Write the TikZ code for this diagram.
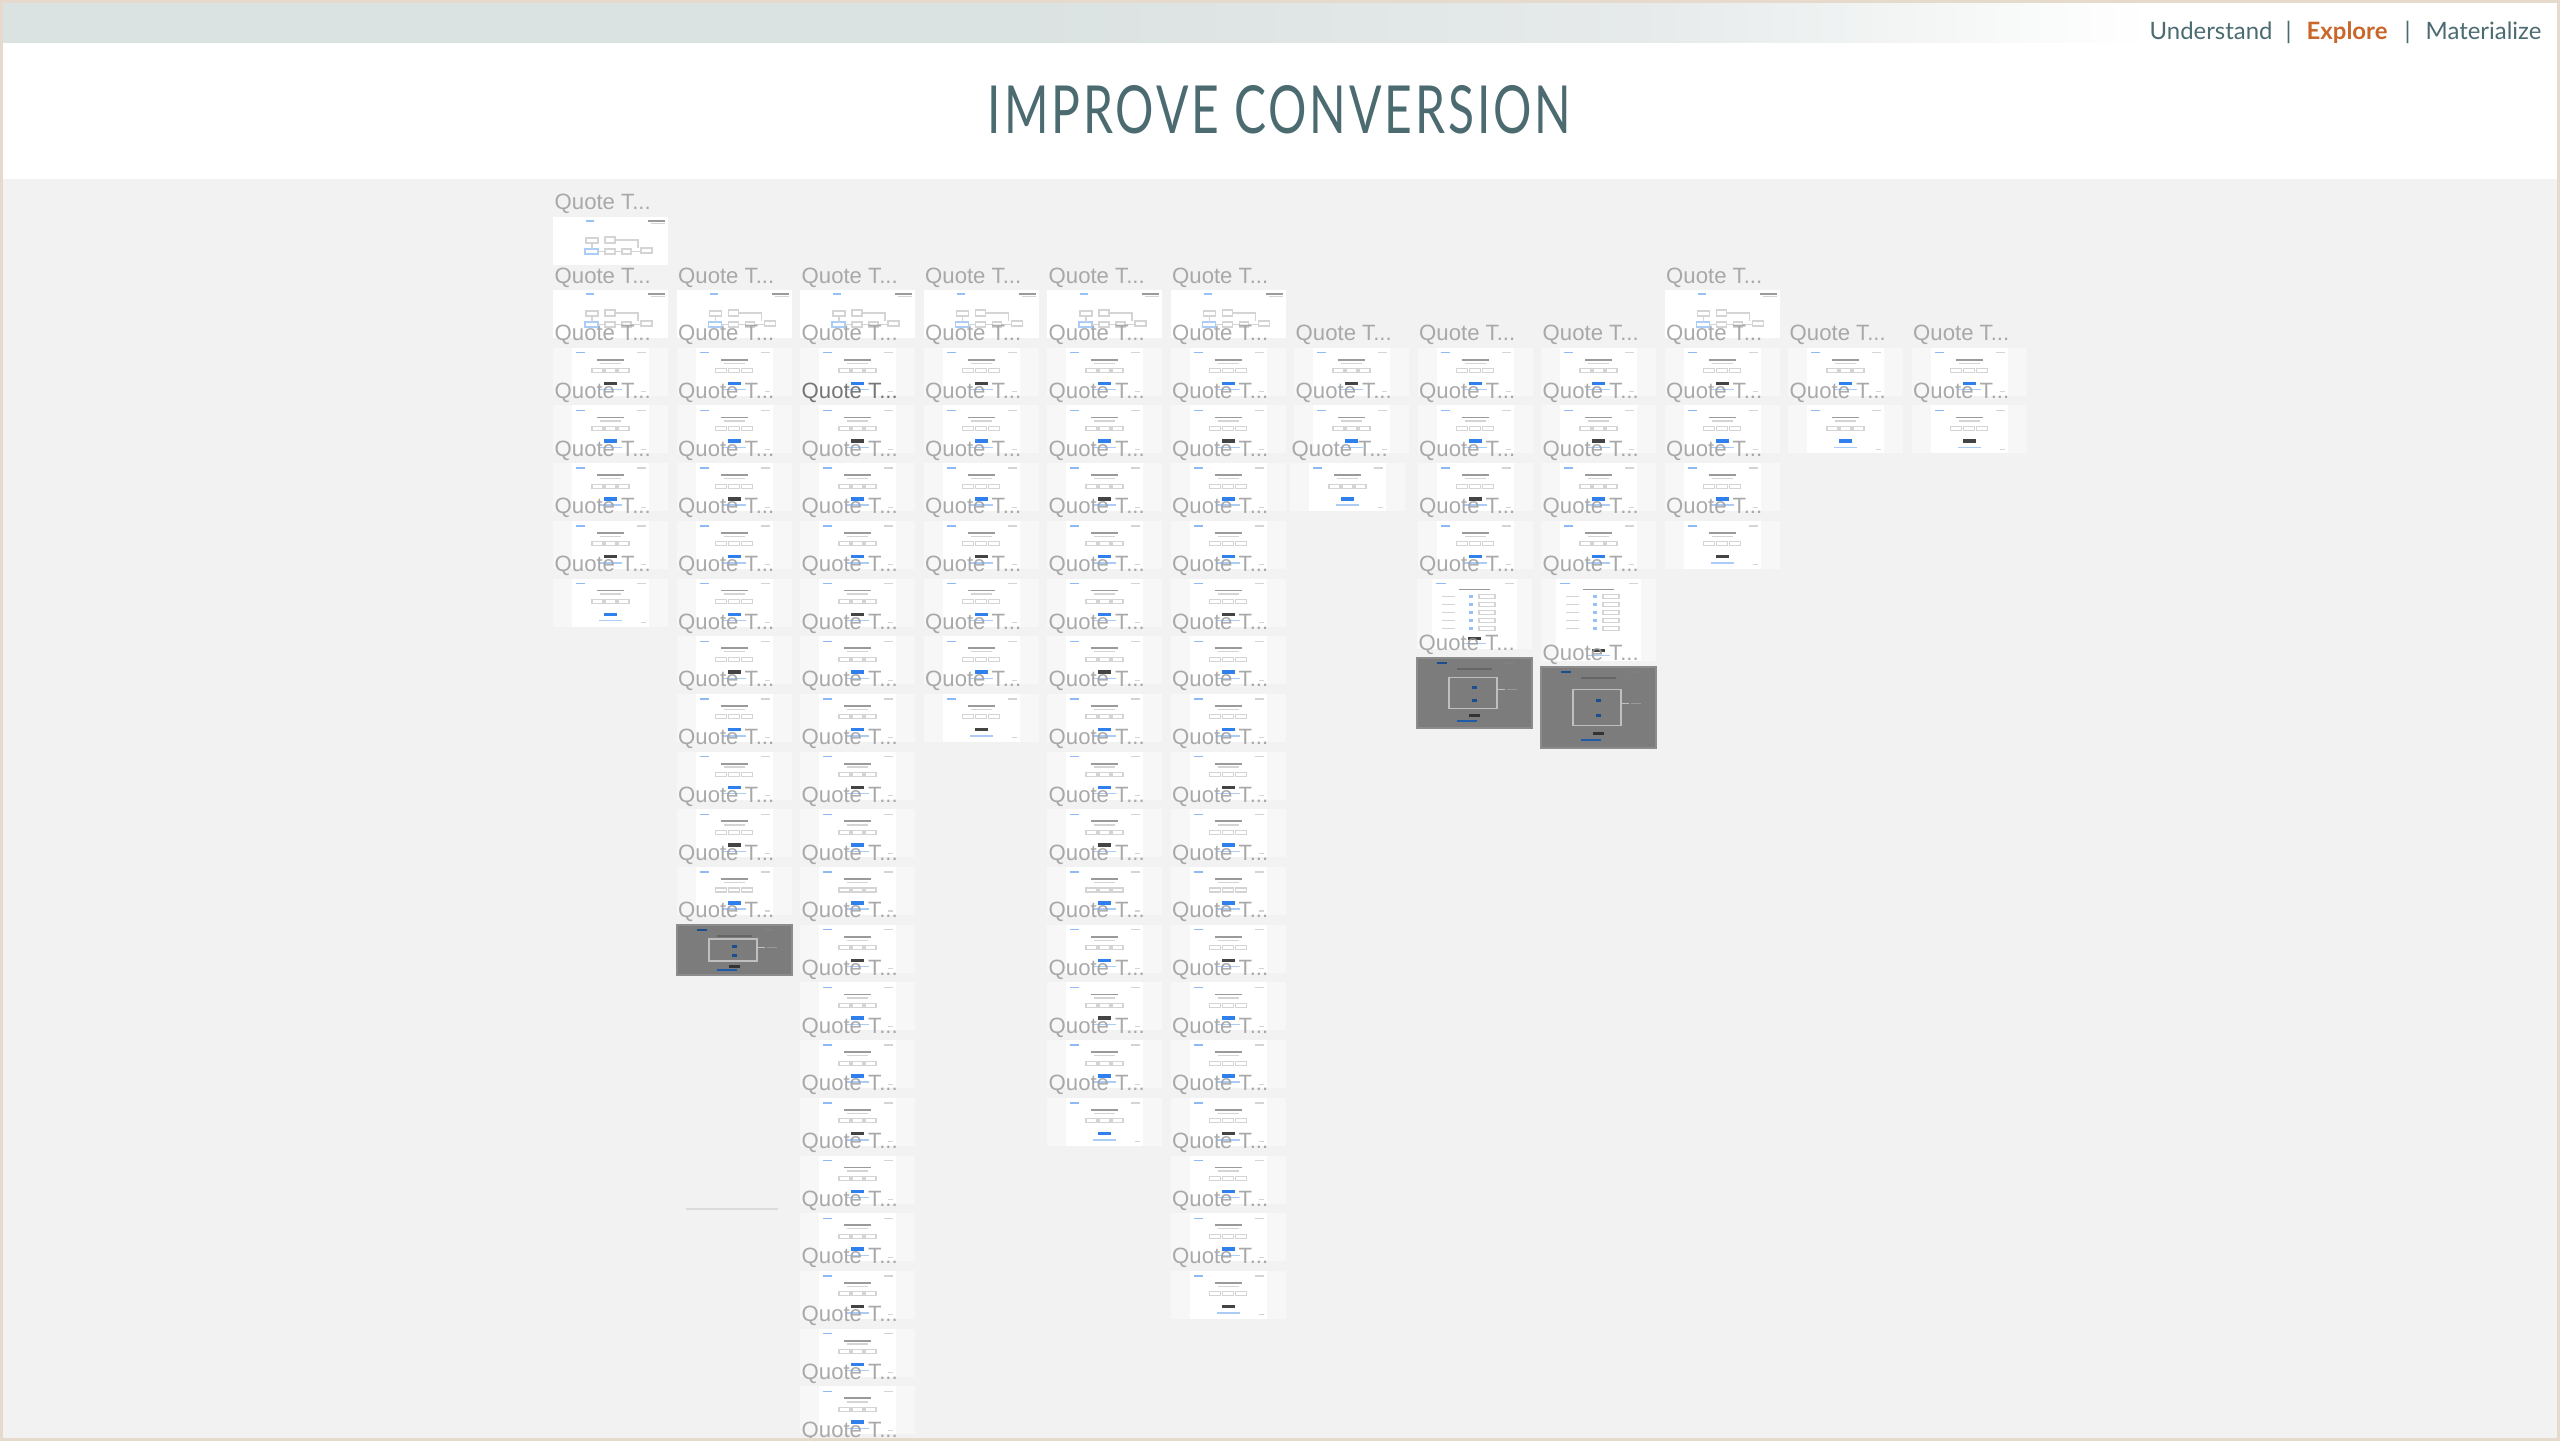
\documentclass[tikz,border=0pt]{standalone}
\usepackage{graphicx}
\usepackage{fontspec}
\setmainfont{Liberation Sans}
\newfontfamily\navfont{Lato}
\newfontfamily\titlefont[LetterSpace=6]{Lato}
\definecolor{canvas}{HTML}{F2F2F2}
\definecolor{hdr}{HTML}{DBE2E2}
\definecolor{framec}{HTML}{E6DACC}
\definecolor{slate}{HTML}{4B6B70}
\definecolor{orng}{HTML}{C9672B}
\definecolor{thout}{HTML}{F7F7F7}
\definecolor{qgray}{HTML}{A0A0A0}
\definecolor{qdark}{HTML}{686868}
\definecolor{uiblue}{HTML}{2F80ED}
\definecolor{uidark}{HTML}{444444}
\definecolor{lnc}{HTML}{D4D4D4}
\definecolor{txtc}{HTML}{9A9A9A}
\definecolor{darkth}{HTML}{7C7C7C}
\definecolor{hdrmid}{HTML}{E6EAEA}
\pgfdeclarehorizontalshading{hdrshade}{100bp}{color(0bp)=(hdr); color(45bp)=(hdr); color(57bp)=(hdrmid); color(67bp)=(white); color(100bp)=(white)}

\newcommand\FlowThumb[2]{%
\begin{scope}[shift={(#1,#2)}]
 \fill[white] (0,0) rectangle (115,48);
 \draw[uiblue!50,line width=0.4pt] (33,4) -- (41,4);
 \draw[txtc,line width=0.5pt] (95,4) -- (112,4);
 \draw[lnc,line width=0.3pt] (98,6.5) -- (112,6.5);
 \draw[fl] (33,21) rectangle (45,26);
 \draw[fl] (52,20) rectangle (62,26);
 \draw[fl] (62,23) -- (85,23) -- (85,31);
 \draw[fl,draw=uiblue!40] (32,32) rectangle (45,37);
 \draw[fl] (52,32) rectangle (62,37);
 \draw[fl] (69,32) rectangle (78,37);
 \draw[fl] (45,34.5) -- (52,34.5) (62,34.5) -- (69,34.5) (78,34.5) -- (88,34.5);
 \draw[fl] (88,31) rectangle (99,36);
 \draw[fl] (39,26) -- (39,32);
\end{scope}}

\newcommand\ScrThumb[4]{%
\begin{scope}[shift={(#1,#2)}]
 \fill[thout] (0,0) rectangle (115,#3);
 \fill[white] (19,0) rectangle (96,#3);
 \draw[uiblue!55,line width=0.4pt] (23,5) -- (32,5);
 \draw[lnc,line width=0.4pt] (84,5) -- (93,5);
 \draw[txtc,line width=0.5pt] (44,12) -- (71,12);
 \draw[lnc,line width=0.4pt] (47,15.5) -- (68,15.5);
 \draw[fl] (39,21) rectangle (50,25) (52,21) rectangle (63,25) (65,21) rectangle (76,25);
 \fill[#4] (51,#3-14) rectangle (64,#3-10.5);
 \draw[uiblue!40,line width=0.4pt] (46,#3-6) -- (69,#3-6);
 \draw[lnc,line width=0.3pt] (88,#3-4) -- (93,#3-4);
\end{scope}}

\newcommand\TallThumb[3]{%
\begin{scope}[shift={(#1,#2)}]
 \fill[thout] (0,0) rectangle (115,#3);
 \fill[white] (15,0) rectangle (100,#3);
 \draw[uiblue!55,line width=0.4pt] (19,5) -- (29,5);
 \draw[lnc,line width=0.4pt] (88,5) -- (97,5);
 \draw[txtc,line width=0.5pt] (42,11) -- (73,11);
 \foreach \k in {0,...,4} {
   \draw[lnc,line width=0.3pt] (25,18+\k*8) -- (38,18+\k*8);
   \fill[uiblue!50] (52,16.5+\k*8) rectangle (56,19.5+\k*8);
   \draw[fl] (62,16+\k*8) rectangle (78,20+\k*8);
 }
 \fill[uidark] (51,#3-12) rectangle (64,#3-9);
 \draw[uiblue!40,line width=0.4pt] (46,#3-5) -- (69,#3-5);
\end{scope}}

\newcommand\DarkThumb[3]{%
\begin{scope}[shift={(#1,#2)}]
 \fill[darkth] (0,0) rectangle (115,#3);
 \draw[black!45,line width=0.4pt] (0,0) rectangle (115,#3);
 \draw[uiblue!60!black,line width=0.4pt] (20,5) -- (30,5);
 \draw[black!50,line width=0.3pt] (88,5) -- (97,5);
 \draw[black!60,line width=0.5pt] (40,11) -- (75,11);
 \draw[black!25,line width=0.4pt] (32,0.28*#3) rectangle (80,0.72*#3);
 \draw[black!25,line width=0.3pt] (80,0.45*#3) -- (88,0.45*#3);
 \draw[black!40,line width=0.3pt] (90,0.45*#3) -- (100,0.45*#3);
 \fill[uiblue!60!black] (55,0.4*#3) rectangle (60,0.4*#3+3);
 \fill[uiblue!60!black] (55,0.58*#3) rectangle (60,0.58*#3+3);
 \fill[black!80] (52,0.8*#3) rectangle (63,0.8*#3+3);
 \draw[uiblue!70!black,line width=0.4pt] (40,0.9*#3) -- (60,0.9*#3);
\end{scope}}

\begin{document}
\begin{tikzpicture}[x=0.01cm,y=-0.01cm,
  fl/.style={draw=lnc,line width=0.3pt},
  lab/.style={text=qgray,text opacity=0.9,font=\fontsize{6.3}{7}\selectfont,inner sep=0pt,anchor=base west},
  nav/.style={text=slate,font=\navfont\fontsize{6.8}{8}\selectfont,inner sep=0pt,anchor=base west}]
\useasboundingbox (0,0) rectangle (2560,1441);
\clip (0,0) rectangle (2560,1441);
% backgrounds
\fill[canvas] (0,0) rectangle (2560,1441);
\fill[white] (0,42) rectangle (2560,179);
\shade[shading=hdrshade] (0,0) rectangle (2560,42);
% header texts
\node[anchor=base,inner sep=0pt,text=slate] (title) at (1279.5,133)
  {\resizebox{5.83cm}{0.48cm}{\titlefont IMPROVE CONVERSION}};
\node[nav] (nav1) at (2149,39) {Understand};
\node[nav] (sep1) at (2285,39) {|};
\node[nav,text=orng,font=\navfont\bfseries\fontsize{6.8}{8}\selectfont] (nav2) at (2306,39) {Explore};
\node[nav] (sep2) at (2404,39) {|};
\node[nav] (nav3) at (2425,39) {Materialize};
% flow thumbnails
\FlowThumb{553}{217}
\foreach \c in {1,...,6,10} {
  \pgfmathsetmacro\cx{553+(\c-1)*123.5}
  \FlowThumb{\cx}{290}
}
% screen thumbnails
\foreach \c/\a/\b in {1/2/6,2/2/11,3/2/21,4/2/8,5/2/15,6/2/18,7/2/4,8/2/5,9/2/5,10/2/5,11/2/3,12/2/3} {
  \foreach \r in {\a,...,\b} {
    \pgfmathsetmacro\cx{553+(\c-1)*123.5-4*((\c==7)&&(\r==4))}
    \pgfmathsetmacro\ty{290+(\r-1)*57.7}
    \pgfmathtruncatemacro\bt{mod(\c+\r,3)}
    \ifnum\bt=0 \def\bc{uidark}\else\def\bc{uiblue}\fi
    \ScrThumb{\cx}{\ty}{48}{\bc}
  }
}
% tall and highlighted thumbnails
\TallThumb{1417}{578.5}{70}
\TallThumb{1541}{578.5}{82}
\DarkThumb{677}{925}{50}
\DarkThumb{1417}{658}{70}
\DarkThumb{1541}{667}{81}
% small note
\draw[black!14,line width=0.7pt] (686,1209) -- (778,1209);
% labels
\node[lab] (q-1-0) at (554,209) {Quote T...};
\foreach \c/\a/\b in {1/1/6,2/1/12,3/1/21,4/1/8,5/1/15,6/1/18,7/2/4,8/2/6,9/2/6,10/1/5,11/2/3,12/2/3} {
  \foreach \r in {\a,...,\b} {
    \pgfmathsetmacro\cx{554+(\c-1)*123.5-4*((\c==7)&&(\r==4))}
    \pgfmathsetmacro\ty{290+(\r-1)*57.7-7}
    \pgfmathtruncatemacro\hl{(\c==3)&&(\r==3)}
    \ifnum\hl=1 \def\lc{qdark}\else\def\lc{qgray}\fi
    \node[lab,text=\lc] (q-\c-\r) at (\cx,\ty) {Quote T...};
  }
}
\node[lab] (q-8-d) at (1418,650) {Quote T...};
\node[lab] (q-9-d) at (1542,660) {Quote T...};
% frame
\draw[framec,line width=0.85pt] (1.5,1.5) rectangle (2558.5,1439.5);
\end{tikzpicture}
\end{document}
